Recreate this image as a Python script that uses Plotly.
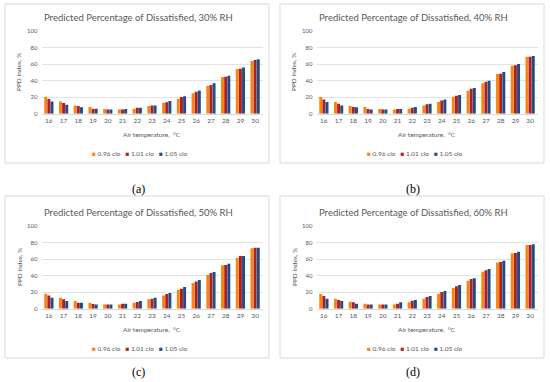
import plotly.graph_objects as go

W, H = 550, 382

temps = ["16", "17", "18", "19", "20", "21", "22", "23", "24", "25", "26", "27", "28", "29", "30"]
series_names = ["0.96 clo", "1.01 clo", "1.05 clo"]
series_colors = ["#F7860F", "#AE1F2E", "#1F4F7E"]

titles = [
    "Predicted Percentage of Dissatisfied, 30% RH",
    "Predicted Percentage of Dissatisfied, 40% RH",
    "Predicted Percentage of Dissatisfied, 50% RH",
    "Predicted Percentage of Dissatisfied, 60% RH",
]
captions = ["(a)", "(b)", "(c)", "(d)"]

# PPD values, %  (RH 30 %)
rh30_096 = [20.6, 14.9, 10.0, 8.0, 5.6, 5.2, 6.0, 9.3, 13.3, 18.1, 24.6, 33.9, 44.4, 54.0, 63.7]
rh30_101 = [17.7, 12.9, 9.3, 6.0, 5.2, 5.2, 7.3, 10.0, 13.7, 20.2, 26.6, 34.7, 44.8, 54.4, 64.9]
rh30_105 = [14.9, 10.9, 7.7, 6.0, 5.2, 5.6, 7.3, 10.0, 15.3, 21.0, 28.2, 36.7, 46.0, 56.0, 65.7]
# RH 40 %
rh40_096 = [20.2, 14.1, 9.3, 8.0, 5.6, 5.2, 6.0, 10.0, 14.1, 20.6, 27.8, 36.7, 48.0, 58.0, 69.0]
rh40_101 = [17.3, 12.1, 8.0, 5.6, 5.2, 5.6, 7.3, 11.3, 16.1, 21.8, 30.2, 38.7, 48.4, 58.5, 69.0]
rh40_105 = [14.1, 10.0, 7.7, 5.2, 5.2, 5.6, 8.0, 12.1, 17.3, 22.6, 31.0, 39.9, 50.4, 60.0, 69.8]
# RH 50 %
rh50_096 = [18.1, 13.3, 9.3, 7.3, 5.2, 5.2, 7.3, 11.3, 16.1, 23.0, 31.0, 40.7, 52.4, 61.3, 73.0]
rh50_101 = [16.1, 11.3, 7.3, 5.6, 5.2, 6.0, 8.0, 12.1, 17.7, 24.2, 33.0, 43.1, 52.8, 63.7, 73.8]
rh50_105 = [13.3, 9.3, 7.3, 5.2, 5.2, 6.0, 9.3, 13.3, 19.0, 26.2, 34.7, 44.4, 54.4, 63.7, 73.8]
# RH 60 %
rh60_096 = [17.7, 12.1, 8.5, 6.0, 5.2, 5.2, 7.7, 12.1, 18.1, 25.0, 33.9, 44.8, 56.0, 67.0, 77.0]
rh60_101 = [15.3, 10.5, 7.7, 5.2, 5.2, 6.0, 9.7, 14.1, 20.2, 27.0, 35.9, 46.4, 56.5, 67.3, 77.0]
rh60_105 = [12.1, 9.3, 6.0, 5.2, 5.2, 7.7, 10.5, 15.3, 21.4, 28.6, 36.7, 48.0, 58.0, 69.0, 77.8]

panels_data = [
    [rh30_096, rh30_101, rh30_105],
    [rh40_096, rh40_101, rh40_105],
    [rh50_096, rh50_101, rh50_105],
    [rh60_096, rh60_101, rh60_105],
]

y_ticks = [0, 20, 40, 60, 80, 100]
x_title = "Air temperature,  °C"
y_title = "PPD Index, %"

FONT = "Lato"
GRAY = "#595959"


def px(x):
    return x / W


def py(y):
    return 1 - y / H


# panel offsets (pixels)
offsets = [(0, 0), (275, 0), (0, 195), (275, 195)]
borders = [(5, 4, 269, 163), (280, 4, 544, 163), (5, 196, 269, 358), (280, 196, 544, 358)]
caption_y = [189, 189, 372, 372]

fig = go.Figure()
layout = dict(
    width=W, height=H,
    margin=dict(l=0, r=0, t=0, b=0, autoexpand=False),
    paper_bgcolor="white", plot_bgcolor="white",
    showlegend=False,
    barmode="group", bargap=0.36, bargroupgap=0.06,
    font=dict(family=FONT, color=GRAY),
)
annotations = []
shapes = []

for i, (dx, dy) in enumerate(offsets):
    n = "" if i == 0 else str(i + 1)
    xa, ya = "x" + n, "y" + n
    for k in range(3):
        fig.add_trace(go.Bar(
            x=temps, y=panels_data[i][k], name=series_names[k],
            marker=dict(color=series_colors[k], line=dict(width=0)),
            xaxis=xa, yaxis=ya,
        ))
    x0, x1 = 41.5 + dx, 262.5 + dx
    y0, y1 = 31 + dy, 113.7 + dy
    layout["xaxis" + n] = dict(
        domain=[px(x0), px(x1)], anchor=ya, type="category", automargin=False,
        showline=True, linecolor="#D9D9D9", linewidth=1,
        showgrid=False, ticks="", tickfont=dict(size=6.5, color=GRAY, family=FONT),
        fixedrange=True,
    )
    layout["yaxis" + n] = dict(
        domain=[py(y1), py(y0)], anchor=xa, range=[0, 100], automargin=False,
        tickvals=y_ticks, showgrid=True, gridcolor="#E3E3E3", gridwidth=1,
        zeroline=False, showline=False, ticks="",
        tickfont=dict(size=6, color=GRAY, family=FONT), ticklabelstandoff=3,
        fixedrange=True,
    )
    # border
    bx0, by0, bx1, by1 = borders[i]
    shapes.append(dict(type="rect", xref="paper", yref="paper",
                       x0=px(bx0), x1=px(bx1), y0=py(by1), y1=py(by0),
                       line=dict(color="#D9D9D9", width=1), fillcolor="rgba(0,0,0,0)"))
    # title
    annotations.append(dict(text=titles[i], xref="paper", yref="paper",
                            x=px(138 + dx), y=py(17 + dy), showarrow=False,
                            xanchor="center", yanchor="middle",
                            font=dict(size=9.5, color=GRAY, family=FONT)))
    # axis titles
    annotations.append(dict(text=x_title, xref="paper", yref="paper",
                            x=px(152 + dx), y=py(134 + dy), showarrow=False,
                            xanchor="center", yanchor="middle",
                            font=dict(size=6.5, color=GRAY, family=FONT)))
    annotations.append(dict(text=y_title, xref="paper", yref="paper",
                            x=px(19 + dx), y=py(72 + dy), showarrow=False,
                            textangle=-90, xanchor="center", yanchor="middle",
                            font=dict(size=6.5, color=GRAY, family=FONT)))
    # legend
    leg = "   ".join(
        f'<span style="color:{c}">■</span> {nm}' for nm, c in zip(series_names, series_colors)
    )
    annotations.append(dict(text=leg, xref="paper", yref="paper",
                            x=px(140 + dx), y=py(153 + dy), showarrow=False,
                            xanchor="center", yanchor="middle",
                            font=dict(size=6.5, color=GRAY, family=FONT)))
    # caption
    annotations.append(dict(text=captions[i], xref="paper", yref="paper",
                            x=px(138 + dx), y=py(caption_y[i]), showarrow=False,
                            xanchor="center", yanchor="middle",
                            font=dict(size=12, color="black", family="Liberation Serif")))

layout["annotations"] = annotations
layout["shapes"] = shapes
fig.update_layout(**layout)
fig.write_html("out.html", config={"displayModeBar": False},
               post_script="document.body.style.margin='0';")
